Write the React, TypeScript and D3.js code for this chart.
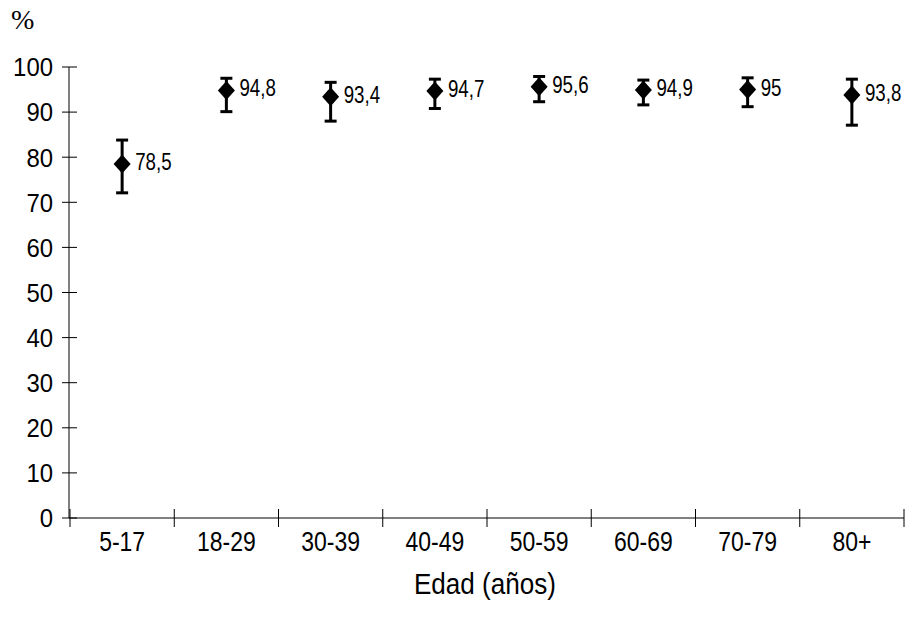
import React from "react";
import * as d3 from "d3";

const categories = ["5-17", "18-29", "30-39", "40-49", "50-59", "60-69", "70-79", "80+"];
const values = [78.5, 94.8, 93.4, 94.7, 95.6, 94.9, 95, 93.8];
const valueLabels = ["78,5", "94,8", "93,4", "94,7", "95,6", "94,9", "95", "93,8"];
const lower = [72.1, 90.1, 88.0, 90.8, 92.3, 91.6, 91.2, 87.1];
const upper = [83.8, 97.5, 96.6, 97.3, 97.9, 97.1, 97.6, 97.3];
const yTicks = [0, 10, 20, 30, 40, 50, 60, 70, 80, 90, 100];

const W = 907;
const H = 631;

export default function App() {
  const x = d3.scaleBand<string>().domain(categories).range([70, 904]);
  const y = d3.scaleLinear().domain([0, 100]).range([518, 67]);
  const bw = x.bandwidth();
  const tickXs = categories.map((c) => x(c) as number).concat([(x(categories[categories.length - 1]) as number) + bw]);
  const sans = "'Liberation Sans', Arial, sans-serif";
  const diamond = (cx: number, cy: number) =>
    `M${cx},${cy - 9.5}L${cx + 8.5},${cy}L${cx},${cy + 9.5}L${cx - 8.5},${cy}Z`;

  return (
    <svg width={W} height={H} style={{ position: "absolute", left: 0, top: 0, background: "#fff" }}>
      <rect x={0} y={0} width={W} height={H} fill="#fff" />
      <text x={11} y={29} fontFamily="'Liberation Serif', 'Times New Roman', serif" fontSize={28} fill="#000">%</text>
      {/* y axis */}
      <line x1={69} x2={69} y1={y(100)} y2={y(0)} stroke="#000" strokeWidth={1} />
      {yTicks.map((t) => (
        <g key={t}>
          <line x1={62} x2={77} y1={y(t)} y2={y(t)} stroke="#000" strokeWidth={1} />
          <text transform={`translate(53,${y(t)}) scale(0.92,1)`} dy="0.36em" textAnchor="end" fontFamily={sans} fontSize={26} fill="#000">
            {t}
          </text>
        </g>
      ))}
      {/* x axis */}
      <line x1={69} x2={tickXs[tickXs.length - 1]} y1={y(0)} y2={y(0)} stroke="#000" strokeWidth={1} />
      {tickXs.map((tx, i) => (
        <line key={i} x1={tx} x2={tx} y1={y(0) - 9} y2={y(0) + 9} stroke="#000" strokeWidth={1} />
      ))}
      {categories.map((c) => (
        <text key={c} transform={`translate(${(x(c) as number) + bw / 2},551) scale(0.82,1)`} textAnchor="middle" fontFamily={sans} fontSize={28} fill="#000">
          {c}
        </text>
      ))}
      <text transform="translate(485,594) scale(0.9,1)" textAnchor="middle" fontFamily={sans} fontSize={29} fill="#000">
        Edad (años)
      </text>
      {/* error bars and markers */}
      {categories.map((c, i) => {
        const cx = (x(c) as number) + bw / 2;
        return (
          <g key={c}>
            <line x1={cx} x2={cx} y1={y(upper[i])} y2={y(lower[i])} stroke="#000" strokeWidth={3} />
            <line x1={cx - 6} x2={cx + 6} y1={y(upper[i])} y2={y(upper[i])} stroke="#000" strokeWidth={3} />
            <line x1={cx - 6} x2={cx + 6} y1={y(lower[i])} y2={y(lower[i])} stroke="#000" strokeWidth={3} />
            <path d={diamond(cx, y(values[i]))} fill="#000" />
            <text transform={`translate(${cx + 13},${y(values[i])}) scale(0.78,1)`} dy="0.25em" fontFamily={sans} fontSize={24} fill="#000">
              {valueLabels[i]}
            </text>
          </g>
        );
      })}
    </svg>
  );
}
